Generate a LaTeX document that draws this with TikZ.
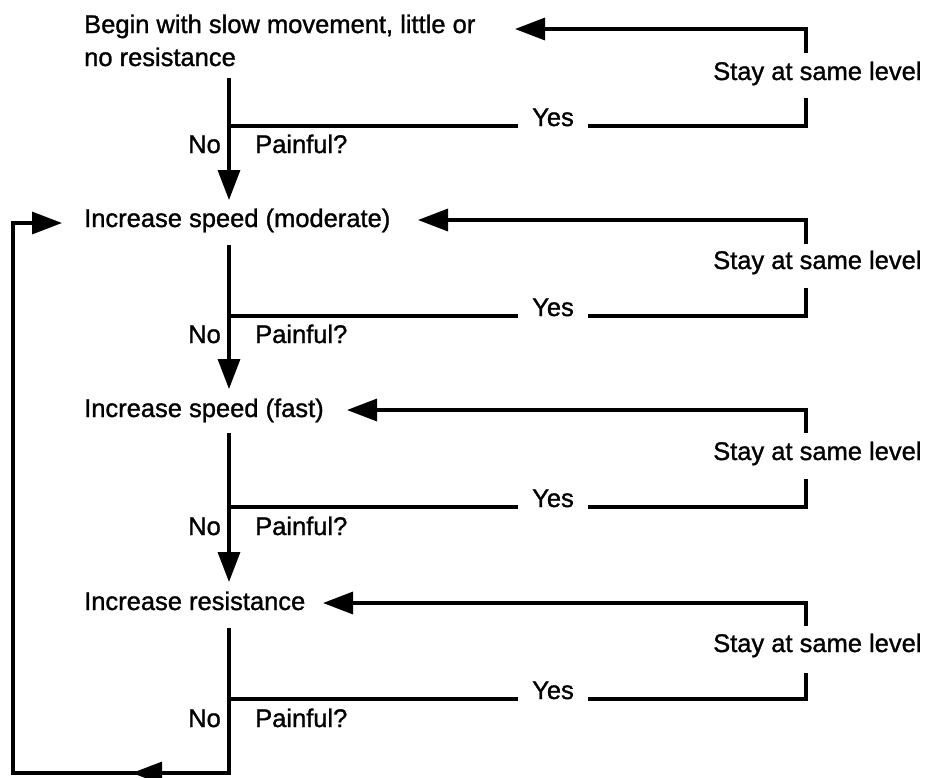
\documentclass[tikz,border=0pt]{standalone}
\usepackage{fontspec}
\setmainfont[FakeBold=1.2]{Liberation Sans}
\usetikzlibrary{arrows.meta}
\begin{document}
\begin{tikzpicture}[x=1pt,y=-1pt,
  txt/.style={inner sep=0pt, anchor=base west, font=\fontsize{25.5}{37}\selectfont},
  txtr/.style={txt, anchor=base east},
  ln/.style={line width=3.3pt, line join=miter},
  arr/.style={ln, -{Triangle[length=30pt,width=22pt]}},
]
\useasboundingbox (0,0) rectangle (927,777);

% ---------- Block 1 ----------
\node[txt] (b1) at (84,33) {Begin with slow movement, little or};
\node[txt] (b1b) at (84,66) {no resistance};
\coordinate (v1) at (229,78);
\coordinate (j1) at (229,126);
\coordinate (e1) at (229,200);
\coordinate (y1l) at (518,126);
\node[txt] (yes1) at (532,126) {Yes};
\coordinate (y1r) at (588,126);
\coordinate (r1b) at (806,126);
\coordinate (r1m) at (806,98);
\coordinate (r1n) at (806,53);
\coordinate (r1t) at (806,29);
\coordinate (a1) at (515,29);
\node[txt] (s1) at (713,80) {Stay at same level};
\node[txtr] (no1) at (221,153) {No};
\node[txt] (p1) at (255,153) {Painful?};
\draw[arr] (v1) -- (e1);
\draw[ln] (j1) -- (y1l);
\draw[ln] (y1r) -- (r1b) -- (r1m);
\draw[arr] (r1n) -- (r1t) -- (a1);

% ---------- Block 2 ----------
\node[txt] (b2) at (84,227) {Increase speed (moderate)};
\coordinate (v2) at (229,245);
\coordinate (j2) at (229,316);
\coordinate (e2) at (229,389);
\coordinate (y2l) at (518,316);
\node[txt] (yes2) at (532,316) {Yes};
\coordinate (y2r) at (588,316);
\coordinate (r2b) at (806,316);
\coordinate (r2m) at (806,288);
\coordinate (r2n) at (806,244);
\coordinate (r2t) at (806,220);
\coordinate (a2) at (418,220);
\node[txt] (s2) at (713,269) {Stay at same level};
\node[txtr] (no2) at (221,343) {No};
\node[txt] (p2) at (255,343) {Painful?};
\draw[arr] (v2) -- (e2);
\draw[ln] (j2) -- (y2l);
\draw[ln] (y2r) -- (r2b) -- (r2m);
\draw[arr] (r2n) -- (r2t) -- (a2);

% ---------- Block 3 ----------
\node[txt] (b3) at (84,417) {Increase speed (fast)};
\coordinate (v3) at (229,433);
\coordinate (j3) at (229,507);
\coordinate (e3) at (229,582);
\coordinate (y3l) at (518,507);
\node[txt] (yes3) at (532,507) {Yes};
\coordinate (y3r) at (588,507);
\coordinate (r3b) at (806,507);
\coordinate (r3m) at (806,479);
\coordinate (r3n) at (806,433);
\coordinate (r3t) at (806,410);
\coordinate (a3) at (347,410);
\node[txt] (s3) at (713,460) {Stay at same level};
\node[txtr] (no3) at (221,535) {No};
\node[txt] (p3) at (255,535) {Painful?};
\draw[arr] (v3) -- (e3);
\draw[ln] (j3) -- (y3l);
\draw[ln] (y3r) -- (r3b) -- (r3m);
\draw[arr] (r3n) -- (r3t) -- (a3);

% ---------- Block 4 ----------
\node[txt] (b4) at (84,610) {Increase resistance};
\coordinate (v4) at (229,628);
\coordinate (j4) at (229,699);
\coordinate (y4l) at (518,699);
\node[txt] (yes4) at (532,699) {Yes};
\coordinate (y4r) at (588,699);
\coordinate (r4b) at (806,699);
\coordinate (r4m) at (806,673);
\coordinate (r4n) at (806,626);
\coordinate (r4t) at (806,603);
\coordinate (a4) at (323,603);
\node[txt] (s4) at (713,652) {Stay at same level};
\node[txtr] (no4) at (221,727) {No};
\node[txt] (p4) at (255,727) {Painful?};
\draw[ln] (j4) -- (y4l);
\draw[ln] (y4r) -- (r4b) -- (r4m);
\draw[arr] (r4n) -- (r4t) -- (a4);

% ---------- Loop back ----------
\coordinate (c1) at (229,773);
\coordinate (m1) at (132,773);
\coordinate (c2) at (13,773);
\coordinate (c3) at (13,223);
\coordinate (a0) at (62,223);
\draw[arr] (v4) -- (c1) -- (c2) -- (c3) -- (a0);
\draw[arr] (c1) -- (m1);
\end{tikzpicture}
\end{document}
